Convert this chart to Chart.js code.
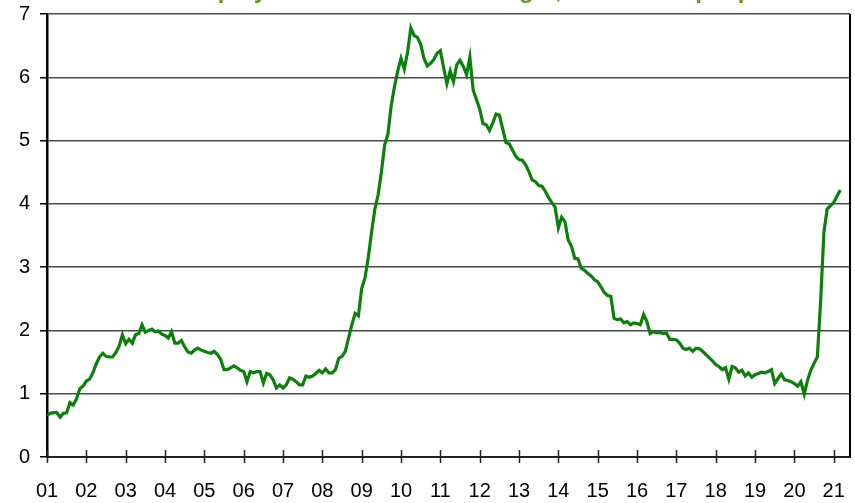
<!DOCTYPE html>
<html>
<head>
<meta charset="utf-8">
<script src="https://cdn.jsdelivr.net/npm/chart.js@4.4.1/dist/chart.umd.min.js"></script>
<style>
  html, body { margin: 0; padding: 0; background: #ffffff; overflow: hidden; }
  #wrap { position: relative; width: 855px; height: 503px; }
</style>
</head>
<body>
<div id="wrap"><canvas id="c" width="855" height="503"></canvas></div>
<script>
// Title (partly cut off at the top in the reference)
const titleText = 'Unemployed for 27 weeks or longer, millions of people';

// Monthly values, millions of people, starting January 2001
const startYear = 2001;
const values2001to2007 = [
  0.66, 0.69, 0.70, 0.70, 0.63, 0.69, 0.70, 0.86, 0.82, 0.92, 1.08, 1.12,
  1.20, 1.23, 1.33, 1.47, 1.58, 1.64, 1.59, 1.58, 1.58, 1.65, 1.75, 1.93,
  1.79, 1.86, 1.80, 1.93, 1.95, 2.09, 1.97, 2.00, 2.02, 1.98, 1.99, 1.94,
  1.92, 1.88, 1.98, 1.80, 1.80, 1.84, 1.74, 1.66, 1.64, 1.69, 1.72, 1.69,
  1.67, 1.65, 1.64, 1.67, 1.62, 1.54, 1.38, 1.38, 1.41, 1.44, 1.41, 1.37,
  1.35, 1.19, 1.35, 1.33, 1.35, 1.35, 1.17, 1.32, 1.30, 1.22, 1.09, 1.14,
  1.09, 1.14, 1.25, 1.23, 1.19, 1.14, 1.14, 1.28, 1.26, 1.28, 1.32, 1.37
];
const values2008to2014 = [
  1.33, 1.39, 1.33, 1.33, 1.38, 1.56, 1.59, 1.67, 1.88, 2.09, 2.27, 2.23,
  2.66, 2.83, 3.15, 3.55, 3.91, 4.14, 4.50, 4.93, 5.10, 5.55, 5.85, 6.10,
  6.30, 6.13, 6.40, 6.78, 6.66, 6.63, 6.52, 6.30, 6.18, 6.22, 6.28, 6.38,
  6.42, 6.15, 5.90, 6.10, 5.93, 6.20, 6.27, 6.17, 6.04, 6.32, 5.80, 5.65,
  5.50, 5.27, 5.25, 5.16, 5.28, 5.42, 5.40, 5.19, 4.97, 4.95, 4.85, 4.75,
  4.70, 4.69, 4.62, 4.51, 4.38, 4.35, 4.29, 4.28, 4.20, 4.10, 4.02, 3.95,
  3.62, 3.79, 3.72, 3.43, 3.33, 3.14, 3.13, 2.98, 2.95, 2.90, 2.86, 2.80
];
const values2015to2021 = [
  2.77, 2.69, 2.60, 2.55, 2.54, 2.19, 2.17, 2.18, 2.12, 2.14, 2.09, 2.12,
  2.11, 2.09, 2.25, 2.14, 1.95, 1.98, 1.96, 1.97, 1.95, 1.96, 1.86, 1.86,
  1.85, 1.80, 1.72, 1.70, 1.72, 1.67, 1.72, 1.71, 1.67, 1.62, 1.57, 1.52,
  1.46, 1.43, 1.38, 1.41, 1.23, 1.43, 1.41, 1.34, 1.37, 1.28, 1.33, 1.26,
  1.30, 1.32, 1.34, 1.33, 1.35, 1.38, 1.16, 1.24, 1.31, 1.22, 1.21, 1.19,
  1.16, 1.12, 1.19, 0.99, 1.21, 1.37, 1.48, 1.58, 2.45, 3.55, 3.92, 3.97,
  4.02, 4.12, 4.22
];

// Axis ticks
const xTickYears = [2001,2002,2003,2004,2005,2006,2007,2008,2009,2010,2011,
                    2012,2013,2014,2015,2016,2017,2018,2019,2020,2021];
const xTickLabels = ['01','02','03','04','05','06','07','08','09','10','11',
                     '12','13','14','15','16','17','18','19','20','21'];
const yTicks = [0,1,2,3,4,5,6,7];

const allValues = values2001to2007.concat(values2008to2014, values2015to2021);
const points = allValues.map((v, i) => ({ x: startYear + i / 12, y: v }));

const FONT = '"Liberation Sans", Arial, sans-serif';

const decorPlugin = {
  id: 'decor',
  afterDraw(chart) {
    const ctx = chart.ctx;
    const area = chart.chartArea;
    const xs = chart.scales.x;
    ctx.save();
    // right border of plot area
    ctx.strokeStyle = '#000000';
    ctx.lineWidth = 2;
    ctx.beginPath();
    ctx.moveTo(area.right, area.top);
    ctx.lineTo(area.right, area.bottom);
    ctx.stroke();
    // crossing tick marks on the x axis
    ctx.lineWidth = 1.5;
    ctx.strokeStyle = '#222222';
    xs.ticks.forEach(t => {
      const px = Math.round(xs.getPixelForValue(t.value)) + 0.5;
      ctx.beginPath();
      ctx.moveTo(px, area.bottom - 7);
      ctx.lineTo(px, area.bottom + 6);
      ctx.stroke();
    });
    // title (cut off at top)
    ctx.fillStyle = '#669a1c';
    ctx.font = 'bold 24px ' + FONT;
    ctx.textBaseline = 'alphabetic';
    ctx.textAlign = 'left';
    ctx.fillText(titleText, 151, -2);
    ctx.restore();
  }
};

new Chart(document.getElementById('c'), {
  type: 'line',
  data: {
    datasets: [{
      data: points,
      borderColor: '#0b800b',
      borderWidth: 3.2,
      pointRadius: 0,
      tension: 0,
      fill: false
    }]
  },
  options: {
    responsive: false,
    animation: false,
    layout: { padding: { left: 0, right: 5, top: 14, bottom: 0 } },
    plugins: {
      legend: { display: false },
      tooltip: { enabled: false },
      title: { display: false }
    },
    scales: {
      x: {
        type: 'linear',
        min: 2001,
        max: 2021.414,
        afterBuildTicks: (scale) => { scale.ticks = xTickYears.map(v => ({ value: v })); },
        afterFit: (scale) => {
          scale.height = 46;
          scale.paddingLeft = 0; scale.paddingRight = 0;
          scale.paddingTop = 0; scale.paddingBottom = 0;
        },
        grid: { display: true, drawOnChartArea: false, drawTicks: false },
        border: { display: true, color: '#222222', width: 2 },
        ticks: {
          autoSkip: false,
          maxRotation: 0,
          padding: 22,
          color: '#000000',
          font: { family: FONT, size: 20 },
          callback: (value) => {
            const idx = xTickYears.indexOf(Math.round(value));
            return idx >= 0 ? xTickLabels[idx] : '';
          }
        }
      },
      y: {
        type: 'linear',
        min: 0,
        max: 7,
        afterBuildTicks: (scale) => { scale.ticks = yTicks.map(v => ({ value: v })); },
        afterFit: (scale) => {
          scale.width = 47;
          scale.paddingLeft = 0; scale.paddingRight = 0;
          scale.paddingTop = 0; scale.paddingBottom = 0;
        },
        grid: {
          color: (c) => (c.tick && c.tick.value === 0) ? 'rgba(0,0,0,0)' : '#4a4a4a',
          lineWidth: 1.5,
          drawTicks: true,
          tickLength: 7,
          tickColor: '#000000'
        },
        border: { display: true, color: '#000000', width: 2.5 },
        ticks: {
          padding: 10,
          color: '#000000',
          font: { family: FONT, size: 20 },
          callback: (value) => String(value)
        }
      }
    }
  },
  plugins: [decorPlugin]
});
</script>
</body>
</html>
